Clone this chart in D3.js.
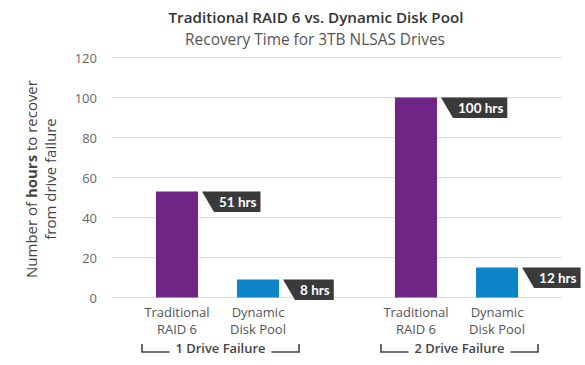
<!DOCTYPE html>
<html><head><meta charset="utf-8">
<script src="https://cdn.jsdelivr.net/npm/d3@7/dist/d3.min.js"></script>
<style>body{margin:0;background:#fff}svg{display:block;font-family:"Open Sans",Lato,sans-serif}</style>
</head><body><svg id="c" width="585" height="365"></svg>
<script>
const groups = ["1 Drive Failure", "2 Drive Failure"];
const series = ["Traditional RAID 6", "Dynamic Disk Pool"];
const seriesLines = [["Traditional", "RAID 6"], ["Dynamic", "Disk Pool"]];
const raidValues = [53, 100];
const ddpValues = [9, 15];
const valueLabels = [["51 hrs", "8 hrs"], ["100 hrs", "12 hrs"]];
const yTicks = [0, 20, 40, 60, 80, 100, 120];
const colors = ["#6E2585", "#0C85C8"];

const svg = d3.select("#c");
const y = d3.scaleLinear().domain([0, 120]).range([297.5, 57.5]);
const x0 = d3.scaleBand().domain(groups).range([98, 576]);
const x1 = d3.scaleBand().domain(series).range([38.5, 200.5]).paddingInner(0.4815).paddingOuter(0.24);

// fit helper: scale font so text matches a target width
function fit(t, target) {
  const w = t.node().getComputedTextLength();
  const fs = parseFloat(t.attr("font-size"));
  t.attr("font-size", (fs * target / w).toFixed(2));
}

// title
fit(svg.append("text").attr("x", 316).attr("y", 23).attr("text-anchor", "middle")
  .attr("font-size", 15).attr("font-weight", 600).attr("fill", "#333").text("Traditional RAID 6 vs. Dynamic Disk Pool"), 295);
fit(svg.append("text").attr("x", 315).attr("y", 45).attr("text-anchor", "middle")
  .attr("font-size", 14).attr("font-weight", 400).attr("fill", "#555").text("Recovery Time for 3TB NLSAS Drives"), 260);

// grid
svg.append("g").selectAll("line").data(yTicks).join("line")
  .attr("x1", 112).attr("x2", 562).attr("y1", d => y(d)).attr("y2", d => y(d))
  .attr("stroke", "#dcdcdc").attr("stroke-width", 1.2);
const yAxis = d3.axisLeft(y).tickValues(yTicks).tickSize(0).tickPadding(0);
const ga = svg.append("g").attr("transform", "translate(97,0)").call(yAxis);
ga.select(".domain").remove();
ga.selectAll("text").attr("font-size", 13).attr("fill", "#666").attr("font-family", "Open Sans").attr("dy", "0.35em");

// y title
const yt = svg.append("text").attr("transform", "translate(37,179) rotate(-90)").attr("text-anchor", "middle")
  .attr("font-size", 15).attr("font-weight", 400).attr("fill", "#444");
yt.append("tspan").attr("x", 0).attr("dy", 0).text("Number of ");
yt.append("tspan").attr("font-weight", 700).text("hours");
yt.append("tspan").text(" to recover");
yt.append("tspan").attr("x", 0).attr("dy", 19).text("from drive failure");
fit(yt, 198 * (yt.node().getComputedTextLength() / yt.node().getSubStringLength(0, "Number of hours to recover".length)));

// bars
const data = [];
groups.forEach((g, gi) => {
  data.push({g, s: series[0], si: 0, v: raidValues[gi], label: valueLabels[gi][0]});
  data.push({g, s: series[1], si: 1, v: ddpValues[gi], label: valueLabels[gi][1]});
});
svg.append("g").selectAll("rect").data(data).join("rect")
  .attr("x", d => x0(d.g) + x1(d.s)).attr("width", x1.bandwidth())
  .attr("y", d => y(d.v)).attr("height", d => y(0) - y(d.v))
  .attr("fill", d => colors[d.si]);

// flags
const fl = svg.append("g").selectAll("g").data(data).join("g")
  .attr("transform", d => `translate(${x0(d.g) + x1(d.s) + x1.bandwidth() + 4},${y(d.v)})`);
fl.each(function(d) {
  const g = d3.select(this);
  const t = g.append("text").attr("font-family", "Lato").attr("font-size", 13.5).attr("font-weight", 700).attr("fill", "#fff")
    .attr("y", 15).text(d.label);
  const w = t.node().getComputedTextLength();
  const slant = 12, padL = 5, padR = 4;
  const W = slant + padL + w + padR;
  t.attr("x", slant + padL);
  g.insert("path", "text").attr("d", `M0,0H${W}V20.5H${slant}Z`).attr("fill", "#3a3a3a");
});

// category labels
data.forEach(d => {
  const cx = x0(d.g) + x1(d.s) + x1.bandwidth() / 2;
  const t = svg.append("text").attr("text-anchor", "middle").attr("font-size", 13).attr("font-weight", 400).attr("fill", "#555");
  seriesLines[d.si].forEach((ln, i) => t.append("tspan").attr("x", cx).attr("y", 317 + i * 16.5).text(ln));
});

// group brackets
groups.forEach(g => {
  const cx = x0(g) + x0.bandwidth() / 2 + 3;
  const t = svg.append("text").attr("x", cx).attr("y", 353).attr("text-anchor", "middle")
    .attr("font-size", 13).attr("font-weight", 600).attr("fill", "#444").text(g);
  fit(t, 90);
  const w = t.node().getComputedTextLength();
  const half = 78.5;
  svg.append("path").attr("d", `M${cx - half},344V352H${cx - w / 2 - 6}M${cx + w / 2 + 6},352H${cx + half}V344`)
    .attr("fill", "none").attr("stroke", "#444").attr("stroke-width", 1.6);
});
</script></body></html>
